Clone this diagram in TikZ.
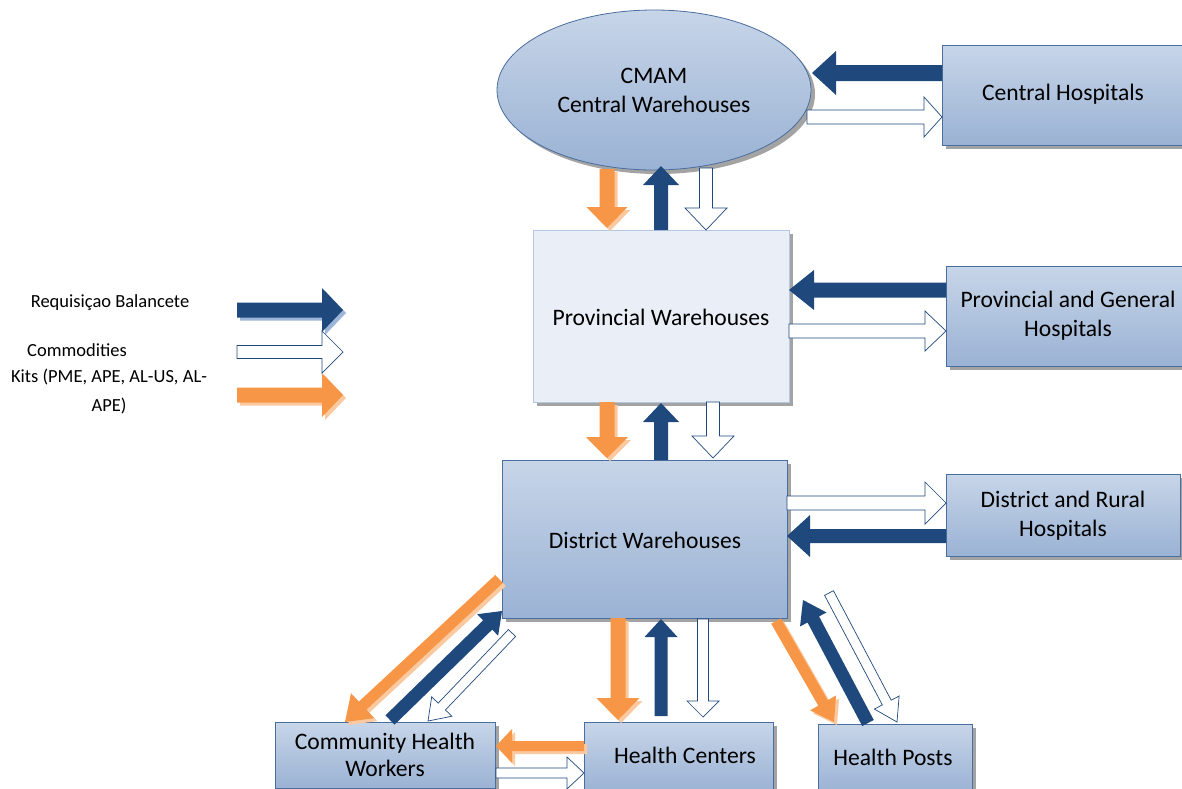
\documentclass[tikz,border=0pt]{standalone}
\usepackage{fontspec}
\setmainfont{Carlito}
\usetikzlibrary{calc,shapes.geometric,shadows}
\definecolor{dblue}{HTML}{1F497D}
\definecolor{bord}{HTML}{4A6E9E}
\definecolor{btop}{HTML}{C7D5E8}
\definecolor{bbot}{HTML}{9AB2D4}
\definecolor{orng}{HTML}{F79646}
\definecolor{orsh}{HTML}{FBC9A0}
\definecolor{blsh}{HTML}{9DB5D8}
\definecolor{pfill}{HTML}{E9EEF7}
\definecolor{pbord}{HTML}{B4C8E2}
\tikzset{
  boxbase/.style={draw=bord, line width=0.8pt, top color=btop, bottom color=bbot,
    drop shadow={shadow xshift=4pt, shadow yshift=-4pt, fill=black!45, opacity=0.8},
    align=center, inner sep=2pt},
  boxtext/.style={font=\fontsize{23.6}{29}\selectfont, align=center},
  legtext/.style={font=\fontsize{18.5}{29}\selectfont, align=center, inner sep=0pt},
  bluearr/.style={fill=dblue, draw=none},
  whitearr/.style={fill=white, draw=dblue, line width=0.7pt},
  orarr/.style={fill=orng, draw=none},
  orshadow/.style={fill=orsh, draw=none},
  blshadow/.style={fill=blsh, draw=none}
}
% #1 style, #2 from, #3 to, #4 shaft half-width, #5 head half-width, #6 head length
\newcommand\blockarrow[6]{%
  \coordinate (hb) at ($(#3)!#6!(#2)$);
  \path[#1] ($(#2)!#4!90:(#3)$) -- ($(hb)!#4!-90:(#2)$) -- ($(hb)!#5!-90:(#2)$)
    -- (#3) -- ($(hb)!#5!90:(#2)$) -- ($(hb)!#4!90:(#2)$) -- ($(#2)!#4!-90:(#3)$) -- cycle;}
% with shadow offset
\newcommand\shblockarrow[7]{%
  \blockarrow{#7,transform canvas={shift={(3pt,-3pt)}}}{#2}{#3}{#4}{#5}{#6}%
  \blockarrow{#1}{#2}{#3}{#4}{#5}{#6}}
\begin{document}
\begin{tikzpicture}[x=1pt,y=-1pt]
\useasboundingbox (0,0) rectangle (1182,788);
\fill[white] (0,0) rectangle (1182,788);

% nodes
\node[boxbase, ellipse, minimum width=314, minimum height=160, draw=bord, boxtext] (cmam) at (654,90) {CMAM\\Central Warehouses};
\node[boxbase, minimum width=248, minimum height=100, anchor=north west] (ch) at (942,45) {};
\node[boxtext] (cht) at (1063,94) {Central Hospitals};
\node[boxbase, top color=pfill, bottom color=pfill, draw=pbord, minimum width=256, minimum height=172, anchor=north west] (pw) at (533,230) {};
\node[boxtext] (pwt) at (661,317) {Provincial Warehouses};
\node[boxbase, minimum width=244, minimum height=100, anchor=north west] (ph) at (946,266) {};
\node[boxtext] (pht) at (1068,316) {Provincial and General\\Hospitals};
\node[boxbase, minimum width=285, minimum height=158, anchor=north west] (dw) at (502,460) {};
\node[boxtext] (dwt) at (645,540) {District Warehouses};
\node[boxbase, minimum width=234, minimum height=82, anchor=north west] (dh) at (946,474) {};
\node[boxtext] (dht) at (1063,516) {District and Rural\\Hospitals};
\node[boxbase, minimum width=220, minimum height=66, anchor=north west] (chw) at (275,722) {};
\node[boxtext, font=\fontsize{23.6}{27}\selectfont] (chwt) at (385,755) {Community Health\\Workers};
\node[boxbase, minimum width=189, minimum height=70, anchor=north west] (hc) at (584,722) {};
\node[boxtext] (hct) at (685,755) {Health Centers};
\node[boxbase, minimum width=154, minimum height=68, anchor=north west] (hp) at (818,724) {};
\node[boxtext] (hpt) at (893,757) {Health Posts};

% legend
\node[legtext] (l1) at (110,303) {Requisiçao Balancete};
\node[legtext] (l2) at (77,350) {Commodities};
\node[legtext] (l3) at (109,392) {Kits (PME, APE, AL-US, AL-\\APE)};
\coordinate (la1) at (237,310); \coordinate (lb1) at (343,310);
\coordinate (la2) at (237,352); \coordinate (lb2) at (343,352);
\coordinate (la3) at (237,395); \coordinate (lb3) at (343,395);
\shblockarrow{bluearr}{la1}{lb1}{7.5pt}{22pt}{21pt}{blshadow}
\blockarrow{whitearr}{la2}{lb2}{6.5pt}{21pt}{21pt}
\shblockarrow{orarr}{la3}{lb3}{7.5pt}{22pt}{21pt}{orshadow}

% CMAM <-> Central Hospitals
\coordinate (c1a) at (942,73); \coordinate (c1b) at (812,73);
\blockarrow{bluearr}{c1a}{c1b}{8pt}{22pt}{24pt}
\coordinate (c2a) at (807,117); \coordinate (c2b) at (942,117);
\blockarrow{whitearr}{c2a}{c2b}{7pt}{20pt}{18pt}

% CMAM <-> Provincial
\coordinate (c3a) at (607,169); \coordinate (c3b) at (607,228);
\shblockarrow{orarr}{c3a}{c3b}{7.5pt}{20.5pt}{21pt}{orshadow}
\coordinate (c4a) at (661,230); \coordinate (c4b) at (661,166);
\blockarrow{bluearr}{c4a}{c4b}{7pt}{18pt}{19pt}
\coordinate (c5a) at (706,168); \coordinate (c5b) at (706,230);
\blockarrow{whitearr}{c5a}{c5b}{6.5pt}{21pt}{22pt}

% Provincial <-> Provincial Hospitals
\coordinate (p1a) at (946,290); \coordinate (p1b) at (789,290);
\blockarrow{bluearr}{p1a}{p1b}{7.5pt}{20pt}{25pt}
\coordinate (p2a) at (789,331); \coordinate (p2b) at (946,331);
\blockarrow{whitearr}{p2a}{p2b}{7pt}{20pt}{21pt}

% Provincial <-> District
\coordinate (p3a) at (607,402); \coordinate (p3b) at (607,458);
\shblockarrow{orarr}{p3a}{p3b}{7.5pt}{21pt}{21pt}{orshadow}
\coordinate (p4a) at (661,460); \coordinate (p4b) at (661,403);
\blockarrow{bluearr}{p4a}{p4b}{7pt}{18pt}{19pt}
\coordinate (p5a) at (713,402); \coordinate (p5b) at (713,458);
\blockarrow{whitearr}{p5a}{p5b}{6.5pt}{21pt}{22pt}

% District <-> District Hospitals
\coordinate (d1a) at (787,503); \coordinate (d1b) at (946,503);
\blockarrow{whitearr}{d1a}{d1b}{7pt}{21pt}{21pt}
\coordinate (d2a) at (946,536); \coordinate (d2b) at (787,536);
\blockarrow{bluearr}{d2a}{d2b}{7pt}{21pt}{23pt}

% District <-> Health Centers
\coordinate (d3a) at (618,618); \coordinate (d3b) at (618,720);
\shblockarrow{orarr}{d3a}{d3b}{7.5pt}{21.5pt}{22pt}{orshadow}
\coordinate (d4a) at (661,716); \coordinate (d4b) at (661,619);
\blockarrow{bluearr}{d4a}{d4b}{6.5pt}{16.5pt}{18pt}
\coordinate (d5a) at (703,619); \coordinate (d5b) at (703,717);
\blockarrow{whitearr}{d5a}{d5b}{5.5pt}{16pt}{16pt}

% District <-> CHW diagonals
\coordinate (d6a) at (499,579); \coordinate (d6b) at (345,722);
\shblockarrow{orarr}{d6a}{d6b}{5.5pt}{17pt}{24pt}{orshadow}
\coordinate (d7a) at (390,720); \coordinate (d7b) at (502,611);
\blockarrow{bluearr}{d7a}{d7b}{6.5pt}{15pt}{20pt}
\coordinate (d8a) at (512,633); \coordinate (d8b) at (428,721);
\blockarrow{whitearr}{d8a}{d8b}{5pt}{14pt}{20pt}

% District <-> Health Posts diagonals
\coordinate (d9a) at (776,621); \coordinate (d9b) at (834,722);
\shblockarrow{orarr}{d9a}{d9b}{5.5pt}{15pt}{22pt}{orshadow}
\coordinate (d10a) at (868,723); \coordinate (d10b) at (803,600);
\blockarrow{bluearr}{d10a}{d10b}{6.5pt}{15pt}{22pt}
\coordinate (d11a) at (829,593); \coordinate (d11b) at (897,722);
\blockarrow{whitearr}{d11a}{d11b}{5pt}{14pt}{22pt}

% Health Centers <-> CHW
\coordinate (h1a) at (584,746); \coordinate (h1b) at (496,746);
\shblockarrow{orarr}{h1a}{h1b}{5pt}{17pt}{16pt}{orshadow}
\coordinate (h2a) at (496,773); \coordinate (h2b) at (584,773);
\blockarrow{whitearr}{h2a}{h2b}{5pt}{16pt}{17pt}
\end{tikzpicture}
\end{document}
